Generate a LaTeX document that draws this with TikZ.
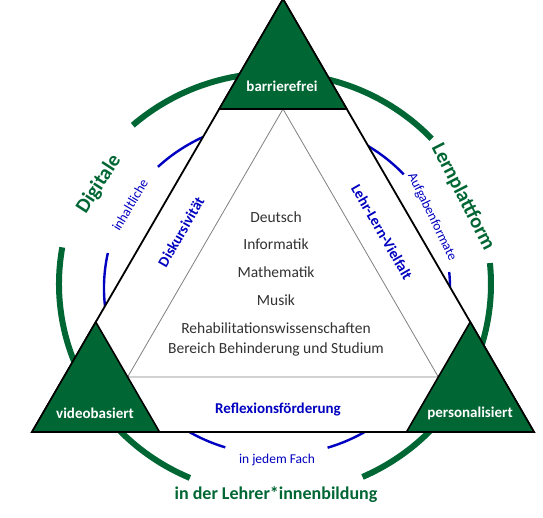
\documentclass[tikz,border=0pt]{standalone}
\usepackage{fontspec}
\setmainfont{Carlito}
\usepackage{tikz}
\definecolor{dgreen}{RGB}{0,102,51}
\definecolor{dblue}{RGB}{0,0,192}
\definecolor{dgray}{RGB}{50,50,50}

\begin{document}
\begin{tikzpicture}[scale=1.000000,x=1pt,y=1pt,inner sep=0pt,
  greenarc/.style={color=dgreen,line width=6pt},
  bluearc/.style={color=dblue,line width=2.4pt},
  corner/.style={draw=black,fill=dgreen,line width=1.6pt,line join=miter},
  cornerlabel/.style={text=white,font=\fontsize{15}{18}\selectfont\bfseries},
  sidelabel/.style={text=dblue,font=\fontsize{15}{18}\selectfont\bfseries},
  smalllabel/.style={text=dblue,font=\fontsize{13.5}{16}\selectfont},
  biglabel/.style={text=dgreen,font=\fontsize{20.5}{24}\selectfont\bfseries},
  subject/.style={text=dgray,font=\fontsize{15.5}{20}\selectfont,align=center}]
\fill[color=white] (0.000000, 0.000000) rectangle (543.000000, 517.000000);
\useasboundingbox (0.000000, 0.000000) rectangle (543.000000, 517.000000);
% Drawing rings
% Ring 1: green, center (275,233), radii 216 and 211
\draw[greenarc] (431.690000, 378.250000) arc[start angle=43.5, end angle=131.2, x radius=216, y radius=211];
\draw[greenarc] (62.280000, 269.640000) arc[start angle=170, end angle=246.8, x radius=216, y radius=211];
\draw[greenarc] (362.500000, 40.080000) arc[start angle=293.9, end angle=365.7, x radius=216, y radius=211];
% Ring 2: blue, center (277,229), radii 173 and 167
\draw[bluearc] (403.720000, 342.680000) arc[start angle=42.9, end angle=133.5, x radius=173, y radius=167];
\draw[bluearc] (107.840000, 264.000000) arc[start angle=167.9, end angle=252.6, x radius=173, y radius=167];
\draw[bluearc] (327.580000, 69.300000) arc[start angle=287, end angle=365.5, x radius=173, y radius=167];
% Done with rings; drawing triangles
\draw[fill=white,line width=1.8pt,line join=miter] (283.000000, 518.000000) -- (32.000000, 85.000000) -- (534.000000, 85.000000) -- cycle;
\draw[color=gray,line width=0.8pt] (283.000000, 408.000000) -- (127.650000, 140.000000) -- (438.350000, 140.000000) -- cycle;
\draw[corner] (283.000000, 518.000000) -- (219.240000, 408.000000) -- (346.760000, 408.000000) -- cycle;
\draw[corner] (95.760000, 195.000000) -- (32.000000, 85.000000) -- (159.530000, 85.000000) -- cycle;
\draw[corner] (470.240000, 195.000000) -- (406.470000, 85.000000) -- (534.000000, 85.000000) -- cycle;
% Done with triangles; drawing corner labels
\node[cornerlabel] (barrierefrei) at (282.000000, 431.000000) {barrierefrei};
\node[cornerlabel] (videobasiert) at (95.000000, 104.000000) {videobasiert};
\node[cornerlabel] (personalisiert) at (470.000000, 104.000000) {personalisiert};
% Side labels
\node[sidelabel,rotate=60] (diskursivitaet) at (181.000000, 285.000000) {Diskursivität};
\node[sidelabel,rotate=-60] (vielfalt) at (382.000000, 285.000000) {Lehr-Lern-Vielfalt};
\node[sidelabel] (reflexion) at (278.000000, 107.000000) {Reflexionsförderung};
% Ring labels
\node[smalllabel,rotate=59] (inhaltliche) at (130.000000, 312.000000) {inhaltliche};
\node[smalllabel,rotate=-64] (aufgaben) at (432.000000, 300.000000) {Aufgabenformate};
\node[smalllabel] (fach) at (277.000000, 57.000000) {in jedem Fach};
\node[biglabel,rotate=57] (digitale) at (99.000000, 333.000000) {Digitale};
\node[biglabel,rotate=-63] (lernplattform) at (463.000000, 320.000000) {Lernplattform};
\node[biglabel,font=\fontsize{18}{22}\selectfont\bfseries] (lehrerbildung) at (276.000000, 22.000000) {in der Lehrer*innenbildung};
% Subjects
\node[subject] (deutsch) at (276.000000, 300.000000) {Deutsch};
\node[subject] (informatik) at (276.000000, 273.000000) {Informatik};
\node[subject] (mathematik) at (276.000000, 245.000000) {Mathematik};
\node[subject] (musik) at (276.000000, 217.000000) {Musik};
\node[subject] (reha) at (276.000000, 178.000000) {Rehabilitationswissenschaften\\Bereich Behinderung und Studium};
% Done with labels
\end{tikzpicture}
\end{document}
